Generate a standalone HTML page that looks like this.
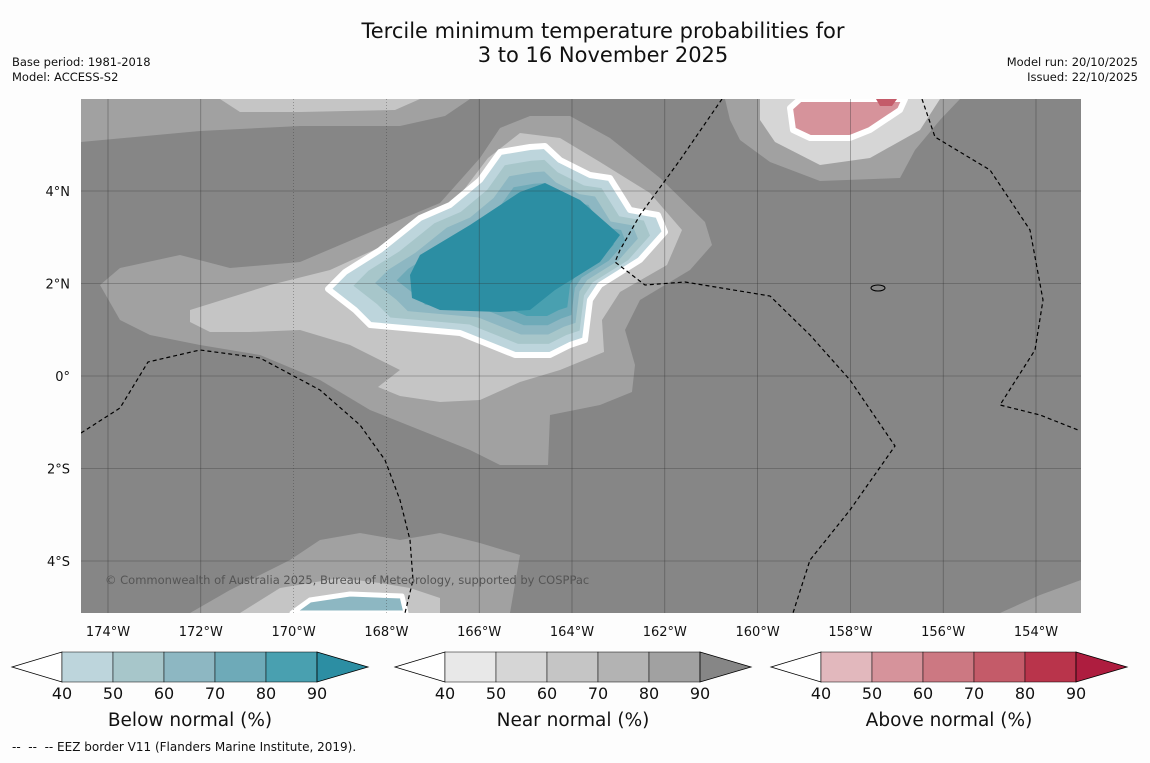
<!DOCTYPE html>
<html><head><meta charset="utf-8">
<style>
body{margin:0;background:#fdfdfd;font-family:"Liberation Sans",sans-serif;}
svg text{font-family:"DejaVu Sans","Liberation Sans",sans-serif;}
</style></head>
<body>
<svg id="chart" width="1150" height="758" viewBox="0 0 1150 758" xmlns="http://www.w3.org/2000/svg">
<rect x="0" y="0" width="1150" height="758" fill="#fdfdfd"/>
<text x="603" y="38" font-size="21" text-anchor="middle" fill="#111">Tercile minimum temperature probabilities for</text>
<text x="603" y="62" font-size="21" text-anchor="middle" fill="#111">3 to 16 November 2025</text>
<text x="12" y="66" font-size="11.5" fill="#111">Base period: 1981-2018</text>
<text x="12" y="81" font-size="11.5" fill="#111">Model: ACCESS-S2</text>
<text x="1138" y="66" font-size="11.5" text-anchor="end" fill="#111">Model run: 20/10/2025</text>
<text x="1138" y="81" font-size="11.5" text-anchor="end" fill="#111">Issued: 22/10/2025</text>
<defs><clipPath id="mapclip"><rect x="81" y="99" width="1000" height="514"/></clipPath></defs>
<g id="map" clip-path="url(#mapclip)"></g>
<g id="axes"></g>
<g id="cbars"></g>
<text x="12" y="751" font-size="12" fill="#111" xml:space="preserve" style="white-space:pre">--  --  -- EEZ border V11 (Flanders Marine Institute, 2019).</text>
</svg>
<script>
// axis ticks
const lonTicks=[-174,-172,-170,-168,-166,-164,-162,-160,-158,-156,-154];
const latTicks=[4,2,0,-2,-4];
const lonLabels=["174°W","172°W","170°W","168°W","166°W","164°W","162°W","160°W","158°W","156°W","154°W"];
const latLabels=["4°N","2°N","0°","2°S","4°S"];
// colorbars
const cbLevels=[40,50,60,70,80,90];
const cbTitles=["Below normal (%)","Near normal (%)","Above normal (%)"];
const belowColors=["#bdd5dc","#a7c6ca","#8db7c2","#6eaab8","#49a0b0","#2c8ea3"];
const nearColors=["#e8e8e8","#d6d6d6","#c5c5c5","#b3b3b3","#a1a1a1","#868686"];
const aboveColors=["#e2b8bd","#d6939b","#cc7882","#c45b69","#b9344b","#ae1d3f"];

const NS="http://www.w3.org/2000/svg";
function xL(lon){return 108+(lon+174)*46.4;}
function yL(lat){return 376-lat*46.25;}
function mk(tag,attrs,parent){const e=document.createElementNS(NS,tag);for(const k in attrs)e.setAttribute(k,attrs[k]);parent.appendChild(e);return e;}
const map=document.getElementById('map');
const axes=document.getElementById('axes');

let bg=mk('rect',{x:81,y:99,width:1000,height:514,fill:'#868686'},map);



function poly(pts,fill,name,stroke,sw){
  const p=mk('polygon',{points:pts.map(a=>a.join(',')).join(' '),fill:fill},map);
  if(stroke){p.setAttribute('stroke',stroke);p.setAttribute('stroke-width',sw);p.setAttribute('stroke-linejoin','round');}
  
  
  return p;
}
poly([[81,99],[470,99],[445,116],[400,126],[300,126],[200,131],[81,142]],nearColors[4],'near-top-80');
poly([[220,99],[420,99],[395,110],[300,112],[240,112]],nearColors[2],'near-top-60');
poly([[100,285],[120,268],[180,255],[230,268],[300,262],[380,228],[440,203],[480,158],[500,128],[530,116],[570,116],[610,138],[660,178],[705,222],[712,245],[690,270],[640,300],[625,330],[635,365],[632,392],[600,405],[550,415],[548,465],[500,465],[470,450],[420,430],[370,410],[320,380],[260,355],[200,345],[150,335],[120,320]],nearColors[4],'near-center-80');
poly([[190,310],[270,285],[330,270],[400,238],[450,208],[488,158],[520,133],[560,138],[600,162],[650,193],[682,230],[667,265],[620,292],[602,320],[604,352],[560,370],[520,382],[480,400],[440,402],[400,396],[378,387],[400,370],[350,345],[300,330],[250,332],[210,332],[190,322]],nearColors[2],'near-center-60');
poly([[725,99],[960,99],[940,120],[915,150],[900,178],[820,181],[770,162],[740,140],[730,120]],nearColors[4],'near-ne-80');
poly([[760,99],[940,99],[920,130],[870,158],[820,165],[775,142],[760,120]],nearColors[1],'near-ne-50');
poly([[190,613],[230,590],[290,560],[320,540],[360,533],[400,540],[440,533],[480,543],[520,555],[510,613]],nearColors[4],'near-south-80');
poly([[240,613],[280,588],[340,578],[380,583],[410,588],[440,598],[440,613]],nearColors[2],'near-south-60');
poly([[1000,613],[1040,595],[1081,580],[1081,613]],nearColors[4],'near-se-80');
const blob=[[328,289],[345,272],[380,250],[420,218],[450,205],[480,180],[500,152],[530,147],[545,146],[560,160],[590,175],[610,178],[630,210],[658,215],[665,232],[640,260],[600,285],[590,300],[585,340],[570,345],[550,355],[515,355],[490,345],[460,333],[370,325],[355,310]];
const cx=520,cy=262;
[1,0.88,0.78,0.68,0.58].forEach((s,i)=>{
  const pts=blob.map(p=>[cx+(p[0]-cx)*s+ (i?8*i:0)*0.3,cy+(p[1]-cy)*s]);
  poly(pts,belowColors[i],'below-contour-'+cbLevels[i],i===0?'#fff':null,i===0?6:0);
});
poly([[410,275],[420,255],[470,225],[520,192],[545,183],[580,200],[620,235],[600,262],[555,290],[530,310],[500,312],[440,310],[412,298]],belowColors[5],'below-contour-90');
poly([[292,613],[310,600],[350,594],[402,596],[406,613]],belowColors[2],'below-south-60','#fff',5);
poly([[790,108],[800,99],[905,99],[900,110],[870,130],[850,138],[810,138],[793,130]],aboveColors[1],'above-ne-50','#fff',6);
poly([[876,99],[897,99],[892,106],[880,106]],aboveColors[3],'above-ne-70');
lonTicks.forEach((lo,i)=>{
  const l=mk('line',{x1:xL(lo),x2:xL(lo),y1:99,y2:613,stroke:'#333','stroke-width':0.6,'stroke-opacity':0.6},map);
  if(i===2||i===3)l.setAttribute('stroke-dasharray','1,2');
  
  
  const t=mk('text',{x:xL(lo),y:636,'font-size':13,'text-anchor':'middle',fill:'#111'},axes);
  t.textContent=lonLabels[i];
  
  
});
latTicks.forEach((la,i)=>{
  const l=mk('line',{x1:81,x2:1081,y1:yL(la),y2:yL(la),stroke:'#333','stroke-width':0.6,'stroke-opacity':0.6},map);
  
  
  const t=mk('text',{x:70,y:yL(la)+5,'font-size':13,'text-anchor':'end',fill:'#111'},axes);
  t.textContent=latLabels[i];
  
  
});
const eez=[
 [[81,433],[120,408],[148,362],[200,350],[260,358],[320,390],[360,425],[385,460],[400,500],[410,540],[413,580],[405,613]],
 [[722,99],[680,160],[640,215],[620,250],[615,262],[645,285],[685,282],[770,296],[810,335],[850,380],[895,446],[850,510],[810,560],[793,613]],
 [[922,99],[935,137],[990,170],[1030,230],[1043,300],[1035,350],[1000,405],[1040,415],[1078,430]]
];
eez.forEach(l=>{
  const p=mk('polyline',{points:l.map(a=>a.join(',')).join(' '),fill:'none',stroke:'#000','stroke-width':1.2,'stroke-dasharray':'4,3'},map);
  
  
});
const isl=mk('ellipse',{cx:878,cy:288,rx:7,ry:3,fill:'none',stroke:'#000','stroke-width':1},map);


const cr=mk('text',{x:105,y:584,'font-size':11.5,fill:'#555'},map);
cr.textContent='© Commonwealth of Australia 2025, Bureau of Meteorology, supported by COSPPac';



const cbSets=[belowColors,nearColors,aboveColors];
const cbX=[12,395,771];
const cbar=document.getElementById('cbars');
cbSets.forEach((cols,k)=>{
  const x0=cbX[k],y0=652,h=30,w=51;
  const g=mk('g',{},cbar);
  
  
  const lt=mk('polygon',{points:`${x0},${y0+h/2} ${x0+50},${y0} ${x0+50},${y0+h}`,fill:'#fff',stroke:'#000','stroke-width':0.8},g);
  
  
  for(let i=0;i<5;i++){
    const r=mk('rect',{x:x0+50+i*w,y:y0,width:w,height:h,fill:cols[i],stroke:'#000','stroke-width':0.5},g);
    
    
  }
  const rt=mk('polygon',{points:`${x0+50+5*w},${y0} ${x0+50+5*w+51},${y0+h/2} ${x0+50+5*w},${y0+h}`,fill:cols[5],stroke:'#000','stroke-width':0.8},g);
  
  
  cbLevels.forEach((v,i)=>{
    const t=mk('text',{x:x0+50+i*w,y:699,'font-size':16,'text-anchor':'middle',fill:'#111'},g);
    t.textContent=v;
    
    
  });
  const tt=mk('text',{x:x0+178,y:726,'font-size':18.5,'text-anchor':'middle',fill:'#111'},g);
  tt.textContent=cbTitles[k];
  
  
});
</script>
</body></html>
